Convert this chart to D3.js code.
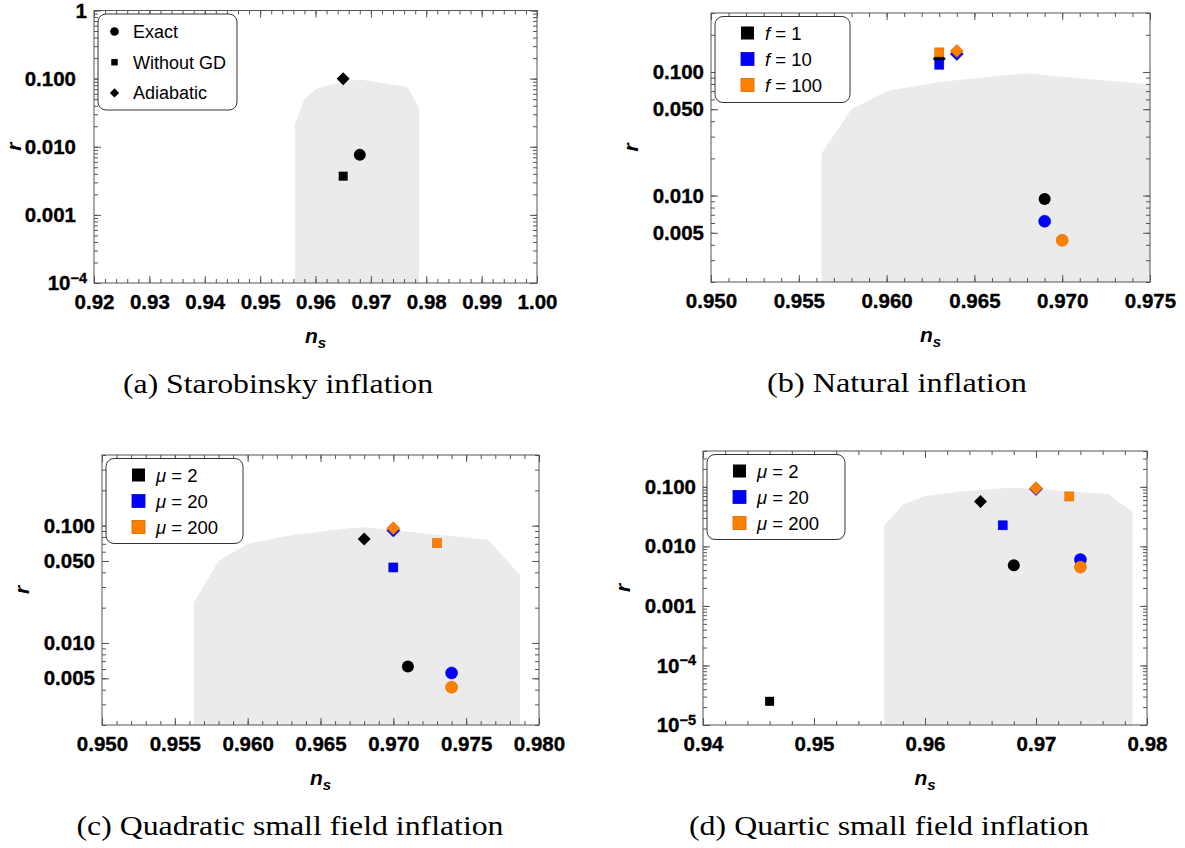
<!DOCTYPE html>
<html>
<head>
<meta charset="utf-8">
<script src="https://cdn.jsdelivr.net/npm/d3@7"></script>
<style>
  body { margin: 0; background: #fff; }
  text { font-family: "Liberation Sans", Arial, sans-serif; }
</style>
</head>
<body>
<svg id="chart" width="1185" height="848"></svg>
<script>
// allowed (shaded) region, upper edge - same in every panel
const regionNs = [0.9563, 0.958, 0.960, 0.963, 0.967, 0.968, 0.9765, 0.9787];
const regionR  = [0.022, 0.050, 0.070, 0.083, 0.095, 0.097, 0.076, 0.038];

const methods = ["Exact", "Without GD", "Adiabatic"];
const paramColors = ["#000000", "#0000ff", "#ff8000"];

// (a) Starobinsky inflation
const starNs     = [0.965, 0.965, 0.968];
const starR      = [0.100, 0.0037, 0.0076];
const starMethod = ["Adiabatic", "Without GD", "Exact"];

// (b) Natural inflation
const fValues   = [1, 10, 100];
const natNs     = [0.963, 0.963, 0.963, 0.964, 0.964, 0.969, 0.969, 0.970];
const natR      = [0.128, 0.1145, 0.144, 0.140, 0.148, 0.0094, 0.0062, 0.00435];
const natMethod = ["Adiabatic", "Without GD", "Without GD", "Adiabatic", "Adiabatic", "Exact", "Exact", "Exact"];
const natF      = [1, 10, 100, 10, 100, 1, 10, 100];

// (c) Quadratic small field inflation
const muValues   = [2, 20, 200];
const quadNs     = [0.968, 0.970, 0.970, 0.970, 0.973, 0.971, 0.974, 0.974];
const quadR      = [0.077, 0.091, 0.095, 0.044, 0.071, 0.0063, 0.00555, 0.0042];
const quadMethod = ["Adiabatic", "Adiabatic", "Adiabatic", "Without GD", "Without GD", "Exact", "Exact", "Exact"];
const quadMu     = [2, 20, 200, 20, 200, 2, 20, 200];

// (d) Quartic small field inflation
const quartNs     = [0.946, 0.965, 0.967, 0.970, 0.970, 0.973, 0.968, 0.974, 0.974];
const quartR      = [2.5e-5, 0.0566, 0.0226, 0.092, 0.095, 0.069, 0.0048, 0.0060, 0.0045];
const quartMethod = ["Without GD", "Adiabatic", "Without GD", "Adiabatic", "Adiabatic", "Without GD", "Exact", "Exact", "Exact"];
const quartMu     = [2, 2, 20, 20, 200, 200, 2, 20, 200];

// tick labels
const aXTicks  = [0.92, 0.93, 0.94, 0.95, 0.96, 0.97, 0.98, 0.99, 1.00];
const aXLabels = ["0.92", "0.93", "0.94", "0.95", "0.96", "0.97", "0.98", "0.99", "1.00"];
const aYTicks  = [1e-4, 1e-3, 1e-2, 1e-1, 1];
const aYLabels = ["10^-4", "0.001", "0.010", "0.100", "1"];

const bXTicks  = [0.950, 0.955, 0.960, 0.965, 0.970, 0.975];
const bXLabels = ["0.950", "0.955", "0.960", "0.965", "0.970", "0.975"];
const bYTicks  = [0.005, 0.010, 0.050, 0.100];
const bYLabels = ["0.005", "0.010", "0.050", "0.100"];

const cXTicks  = [0.950, 0.955, 0.960, 0.965, 0.970, 0.975, 0.980];
const cXLabels = ["0.950", "0.955", "0.960", "0.965", "0.970", "0.975", "0.980"];

const dXTicks  = [0.94, 0.95, 0.96, 0.97, 0.98];
const dXLabels = ["0.94", "0.95", "0.96", "0.97", "0.98"];
const dYTicks  = [1e-5, 1e-4, 1e-3, 1e-2, 1e-1];
const dYLabels = ["10^-5", "10^-4", "0.001", "0.010", "0.100"];

const svg = d3.select("#chart");
const frameColor = "#555";

function drawMarker(g, method, cx, cy, color, scale) {
  const k = scale || 1;
  const stroke = color === "#000000" ? "none" : d3.color(color).darker(0.6);
  if (method === "Exact") {
    g.append("circle").attr("cx", cx).attr("cy", cy).attr("r", 6 * k)
      .attr("fill", color).attr("stroke", stroke).attr("stroke-width", 0.6);
  } else if (method === "Without GD") {
    const s = 4.5 * k;
    g.append("rect").attr("x", cx - s).attr("y", cy - s).attr("width", 2 * s).attr("height", 2 * s)
      .attr("fill", color).attr("stroke", stroke).attr("stroke-width", 0.6);
  } else {
    const s = 6.5 * k;
    g.append("path").attr("d", `M${cx},${cy - s}L${cx + s},${cy}L${cx},${cy + s}L${cx - s},${cy}Z`)
      .attr("fill", color).attr("stroke", stroke).attr("stroke-width", 0.6);
  }
}

function minorLog(domain) {
  const out = [];
  for (let e = Math.floor(Math.log10(domain[0])); e <= Math.ceil(Math.log10(domain[1])); e++) {
    for (let k = 1; k < 10; k++) {
      const v = k * Math.pow(10, e);
      if (v >= domain[0] * 0.999 && v <= domain[1] * 1.001) out.push(v);
    }
  }
  return out;
}

function styleAxis(sel) {
  sel.select(".domain").remove();
  sel.selectAll("line").attr("stroke", frameColor);
  sel.selectAll("text").attr("fill", "#000")
    .attr("stroke", "#000").attr("stroke-width", 0.35)
    .style("font-size", "20.5px").style("font-weight", "bold")
    .style("font-family", "'Liberation Sans', Arial, sans-serif");
}

function drawPanel(p) {
  const g = svg.append("g");
  const b = p.box;
  const x = d3.scaleLinear().domain(p.xDomain).range([b.left, b.right]);
  const y = d3.scaleLog().domain(p.yDomain).range([b.bottom, b.top]);

  svg.append("clipPath").attr("id", "clip-" + p.id).append("rect")
    .attr("x", b.left).attr("y", b.top).attr("width", b.right - b.left).attr("height", b.bottom - b.top);

  // shaded region
  const edge = regionNs.map((n, i) => [n, regionR[i]]);
  const poly = [[regionNs[0], p.yDomain[0]]].concat(edge, [[regionNs[regionNs.length - 1], p.yDomain[0]]]);
  g.append("path").datum(poly)
    .attr("d", d3.line().x(d => x(d[0])).y(d => y(d[1])))
    .attr("fill", "#ebebeb").attr("clip-path", `url(#clip-${p.id})`);

  const xMinor = d3.range(p.xDomain[0], p.xDomain[1] + 1e-9, p.xMinorStep);
  const yMinor = minorLog(p.yDomain);

  // bottom
  g.append("g").attr("transform", `translate(0,${b.bottom})`)
    .call(d3.axisBottom(x).tickValues(xMinor).tickSize(-4).tickFormat("")).call(styleAxis);
  g.append("g").attr("transform", `translate(0,${b.bottom})`)
    .call(d3.axisBottom(x).tickValues(p.xTicks).tickSize(-7).tickPadding(11).tickFormat((d, i) => p.xLabels[i]))
    .call(styleAxis);
  // top
  g.append("g").attr("transform", `translate(0,${b.top})`)
    .call(d3.axisTop(x).tickValues(xMinor).tickSize(-4).tickFormat("")).call(styleAxis);
  g.append("g").attr("transform", `translate(0,${b.top})`)
    .call(d3.axisTop(x).tickValues(p.xTicks).tickSize(-7).tickFormat("")).call(styleAxis);
  // left
  g.append("g").attr("transform", `translate(${b.left},0)`)
    .call(d3.axisLeft(y).tickValues(yMinor).tickSize(-4).tickFormat("")).call(styleAxis);
  const yl = g.append("g").attr("transform", `translate(${b.left},0)`)
    .call(d3.axisLeft(y).tickValues(p.yTicks).tickSize(-7).tickPadding(7).tickFormat((d, i) => p.yLabels[i]))
    .call(styleAxis);
  yl.selectAll(".tick text").each(function (d, i) {
    const lab = p.yLabels[i];
    const t = d3.select(this);
    if (lab.includes("^")) {
      const parts = lab.split("^");
      t.text(parts[0]);
      t.append("tspan").attr("dy", "-0.5em").style("font-size", "14.5px").text(parts[1].replace("-", "\u2212"));
    } else if (lab.startsWith("0.") && p.decimalShift) {
      t.attr("dx", -p.decimalShift);
    }
  });
  // right
  g.append("g").attr("transform", `translate(${b.right},0)`)
    .call(d3.axisRight(y).tickValues(yMinor).tickSize(-4).tickFormat("")).call(styleAxis);
  g.append("g").attr("transform", `translate(${b.right},0)`)
    .call(d3.axisRight(y).tickValues(p.yTicks).tickSize(-7).tickFormat("")).call(styleAxis);

  // frame
  g.append("rect").attr("x", b.left).attr("y", b.top)
    .attr("width", b.right - b.left).attr("height", b.bottom - b.top)
    .attr("fill", "none").attr("stroke", frameColor).attr("stroke-width", 1);

  // points
  const pts = g.append("g");
  p.ns.forEach((n, i) => {
    const color = p.param ? paramColors[p.paramValues.indexOf(p.param[i])] : "#000000";
    drawMarker(pts, p.method[i], x(n), y(p.r[i]), color);
  });

  // legend
  const lx = b.left + 4, ly = b.top + 3.5;
  const lg = g.append("g");
  lg.append("rect").attr("x", lx).attr("y", ly).attr("width", p.legendW).attr("height", p.legendH)
    .attr("rx", 8).attr("fill", "#fff").attr("stroke", "#333").attr("stroke-width", 1);
  if (p.param) {
    p.paramValues.forEach((v, i) => {
      const cy = ly + 16.5 + i * 26;
      const c = paramColors[i];
      lg.append("rect").attr("x", lx + 26).attr("y", cy - 6.5).attr("width", 13).attr("height", 13)
        .attr("fill", c).attr("stroke", c === "#000000" ? "none" : d3.color(c).darker(0.6)).attr("stroke-width", 0.8);
      const t = lg.append("text").attr("x", lx + 50).attr("y", cy + 6.5).style("font-size", "18.5px");
      t.append("tspan").style("font-style", "italic").text(p.paramName);
      t.append("tspan").text(" = " + v);
    });
  } else {
    methods.forEach((m, i) => {
      const cy = ly + 17.5 + i * 30.7;
      drawMarker(lg, m, lx + 16.5, cy, "#000000", 0.72);
      lg.append("text").attr("x", lx + 35).attr("y", cy + 6.5).style("font-size", "18px").text(m);
    });
  }

  // axis titles
  g.append("text").attr("transform", `translate(${b.left - p.rOffset},${(b.top + b.bottom) / 2}) rotate(-90)`)
    .attr("text-anchor", "middle").style("font-size", "21px").style("font-weight", "bold")
    .style("font-style", "italic").text("r");
  const nt = g.append("text").attr("x", (b.left + b.right) / 2).attr("y", b.bottom + 60)
    .attr("text-anchor", "middle").style("font-size", "21px").style("font-weight", "bold").style("font-style", "italic");
  nt.append("tspan").text("n");
  nt.append("tspan").attr("dy", 5).style("font-size", "15px").text("s");

  // caption
  g.append("text").attr("x", p.captionX).attr("y", b.bottom + 110).attr("text-anchor", "middle")
    .attr("textLength", p.captionW).attr("lengthAdjust", "spacingAndGlyphs")
    .style("font-family", "'Liberation Serif', 'Times New Roman', serif").style("font-size", "28px")
    .text(p.caption);
}

drawPanel({
  id: "a", box: { left: 94, right: 537, top: 10.5, bottom: 283 },
  xDomain: [0.92, 1.00], yDomain: [1e-4, 1], xMinorStep: 0.002,
  xTicks: aXTicks, xLabels: aXLabels, yTicks: aYTicks, yLabels: aYLabels, decimalShift: 11,
  ns: starNs, r: starR, method: starMethod, rOffset: 73,
  legendW: 139, legendH: 96,
  caption: "(a) Starobinsky inflation", captionX: 278, captionW: 310
});

drawPanel({
  id: "b", box: { left: 711, right: 1150, top: 13, bottom: 282 },
  xDomain: [0.950, 0.975], yDomain: [0.002, 0.3], xMinorStep: 0.001,
  xTicks: bXTicks, xLabels: bXLabels, yTicks: bYTicks, yLabels: bYLabels,
  ns: natNs, r: natR, method: natMethod, param: natF, paramValues: fValues, paramName: "f", rOffset: 73,
  legendW: 135, legendH: 86,
  caption: "(b) Natural inflation", captionX: 897, captionW: 260
});

drawPanel({
  id: "c", box: { left: 102, right: 539, top: 455, bottom: 725 },
  xDomain: [0.950, 0.980], yDomain: [0.002, 0.4], xMinorStep: 0.001,
  xTicks: cXTicks, xLabels: cXLabels, yTicks: bYTicks, yLabels: bYLabels,
  ns: quadNs, r: quadR, method: quadMethod, param: quadMu, paramValues: muValues, paramName: "\u03bc", rOffset: 73,
  legendW: 137, legendH: 85,
  caption: "(c) Quadratic small field inflation", captionX: 290, captionW: 427
});

drawPanel({
  id: "d", box: { left: 703, right: 1147, top: 451, bottom: 725 },
  xDomain: [0.94, 0.98], yDomain: [1e-5, 0.4], xMinorStep: 0.002,
  xTicks: dXTicks, xLabels: dXLabels, yTicks: dYTicks, yLabels: dYLabels,
  ns: quartNs, r: quartR, method: quartMethod, param: quartMu, paramValues: muValues, paramName: "\u03bc", rOffset: 73,
  legendW: 138, legendH: 85,
  caption: "(d) Quartic small field inflation", captionX: 889, captionW: 400
});
</script>
</body>
</html>
